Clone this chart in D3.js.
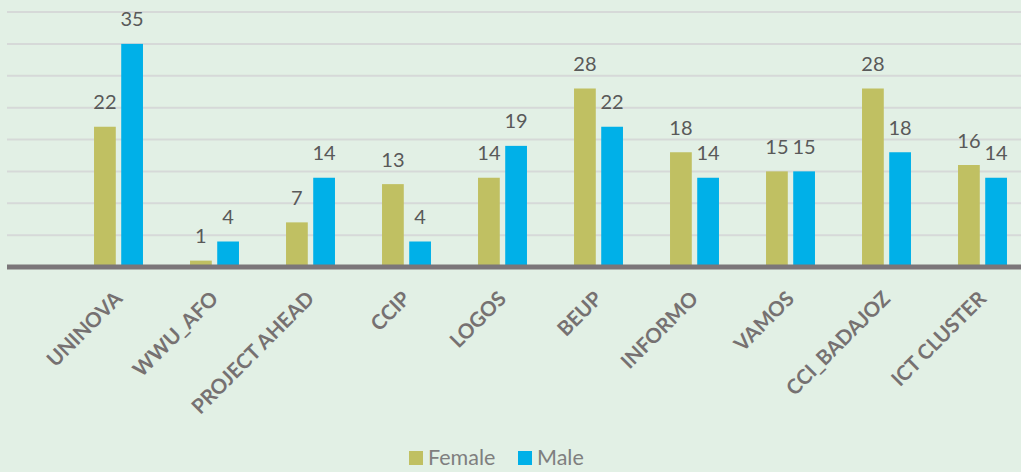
<!DOCTYPE html>
<html>
<head>
<meta charset="utf-8">
<script src="https://cdn.jsdelivr.net/npm/d3@7"></script>
<style>
  html, body { margin: 0; padding: 0; background: #e2f0e5; }
  svg { display: block; }
</style>
</head>
<body>
<svg id="chart" width="1021" height="472"></svg>
<script>
// data
var categories = ["UNINOVA", "WWU_AFO", "PROJECT AHEAD", "CCIP", "LOGOS",
                  "BEUP", "INFORMO", "VAMOS", "CCI_BADAJOZ", "ICT CLUSTER"];
var female = [22, 1, 7, 13, 14, 28, 18, 15, 28, 16];
var male   = [35, 4, 14, 4, 19, 22, 14, 15, 18, 14];
var seriesNames = ["Female", "Male"];
var yTicks = [0, 5, 10, 15, 20, 25, 30, 35, 40];

var colors = { Female: "#c0c062", Male: "#00b0e8" };

var svg = d3.select("#chart");
var W = 1021, H = 472;

svg.append("rect").attr("width", W).attr("height", H).attr("fill", "#e2f0e5");

// scales
var y = d3.scaleLinear().domain([0, 40]).range([267, 12]);

var x = d3.scaleBand()
    .domain(categories)
    .range([70.5, 1030.5])
    .paddingInner(0.49)
    .paddingOuter(0.245);

var xs = d3.scaleBand()
    .domain(seriesNames)
    .range([0, x.bandwidth()])
    .paddingInner(0.2);

// gridlines
svg.append("g").selectAll("line")
    .data(yTicks.slice(1))
    .enter().append("line")
    .attr("x1", 7).attr("x2", W)
    .attr("y1", function (d) { return y(d); })
    .attr("y2", function (d) { return y(d); })
    .attr("stroke", "#d6d9d8")
    .attr("stroke-width", 2);

// rows for the bars
var rows = categories.map(function (c, i) {
    return { cat: c, values: [
        { name: "Female", v: female[i] },
        { name: "Male", v: male[i] }
    ]};
});

var groups = svg.append("g").selectAll("g")
    .data(rows).enter().append("g")
    .attr("transform", function (d) { return "translate(" + x(d.cat) + ",0)"; });

groups.selectAll("rect")
    .data(function (d) { return d.values; })
    .enter().append("rect")
    .attr("x", function (d) { return xs(d.name); })
    .attr("y", function (d) { return y(d.v); })
    .attr("width", xs.bandwidth())
    .attr("height", function (d) { return y(0) - y(d.v); })
    .attr("fill", function (d) { return colors[d.name]; });

// value labels
groups.selectAll("text")
    .data(function (d) { return d.values; })
    .enter().append("text")
    .attr("x", function (d) { return xs(d.name) + xs.bandwidth() / 2; })
    .attr("y", function (d) { return y(d.v) - 17.5; })
    .attr("text-anchor", "middle")
    .attr("font-family", "Lato, 'Open Sans', sans-serif")
    .attr("font-size", 20)
    .attr("fill", "#595959")
    .text(function (d) { return d.v; });

// baseline
svg.append("line")
    .attr("x1", 7).attr("x2", W)
    .attr("y1", y(0)).attr("y2", y(0))
    .attr("stroke", "#7b7679")
    .attr("stroke-width", 5);

// category axis labels, rotated
var xAxis = d3.axisBottom(x).tickSize(0).tickPadding(0);
var ax = svg.append("g").attr("transform", "translate(0," + y(0) + ")").call(xAxis);
ax.select(".domain").remove();
ax.selectAll("text")
    .attr("font-family", "Lato, 'Open Sans', sans-serif")
    .attr("font-size", 20.5)
    .attr("font-weight", "bold")
    .attr("fill", "#767171")
    .attr("text-anchor", "end")
    .attr("dy", 0)
    .attr("transform", "translate(5,33) rotate(-45)");

// legend
var legend = svg.append("g");
var legendX = [409, 518];
seriesNames.forEach(function (s, i) {
    legend.append("rect")
        .attr("x", legendX[i]).attr("y", 451)
        .attr("width", 14).attr("height", 14)
        .attr("fill", colors[s]);
    legend.append("text")
        .attr("x", legendX[i] + 19).attr("y", 465)
        .attr("font-family", "Lato, 'Open Sans', sans-serif")
        .attr("font-size", 21.5)
        .attr("fill", "#7f7f7f")
        .text(s);
});
</script>
</body>
</html>
